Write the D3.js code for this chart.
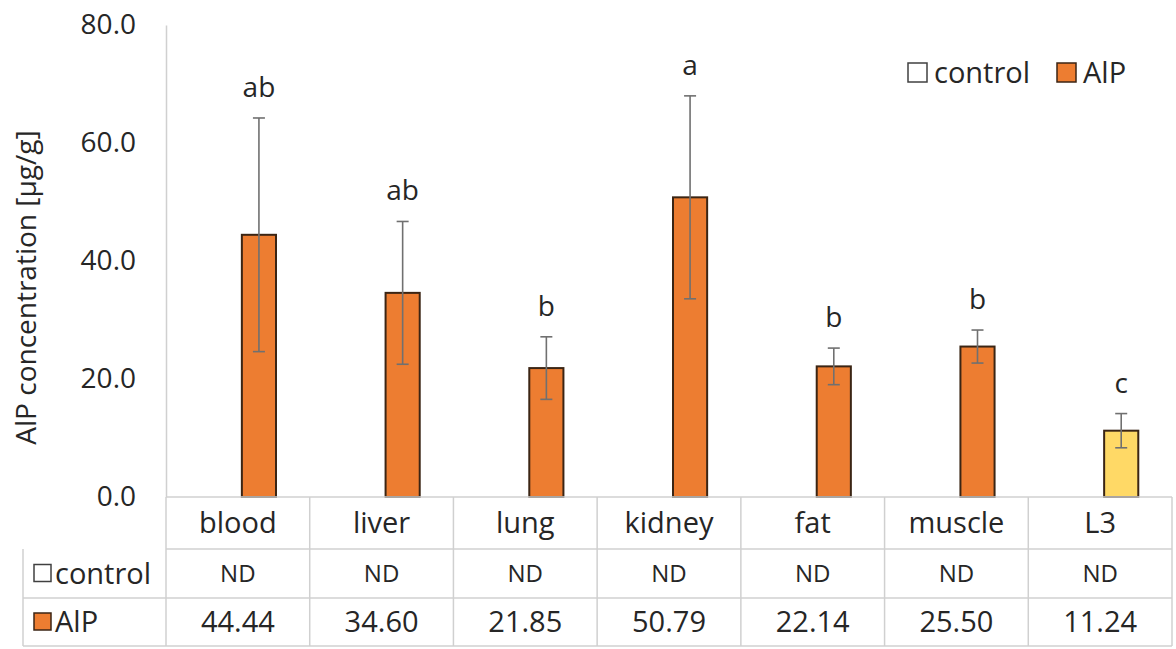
<!DOCTYPE html>
<html>
<head>
<meta charset="utf-8">
<script src="https://cdn.jsdelivr.net/npm/d3@7"></script>
<style>
  body { margin: 0; background: #fff; }
  text { font-family: "Open Sans", "Noto Sans", sans-serif; fill: #262626; }
</style>
</head>
<body>
<svg id="chart"></svg>
<script>

// chart values
const categories = ["blood", "liver", "lung", "kidney", "fat", "muscle", "L3"];
const series = ["control", "AlP"];
const controlValues = [null, null, null, null, null, null, null];
const controlLabels = ["ND", "ND", "ND", "ND", "ND", "ND", "ND"];
const alpValues = [44.44, 34.60, 21.85, 50.79, 22.14, 25.50, 11.24];
const alpErrors = [19.8, 12.1, 5.3, 17.2, 3.1, 2.8, 2.9];
const letters = ["ab", "ab", "b", "a", "b", "b", "c"];
const yTicks = [0, 20, 40, 60, 80];

const W = 1176, H = 649;
const margin = {left: 166, right: 4, top: 25, bottom: 152};
const plotW = W - margin.left - margin.right;
const plotH = H - margin.top - margin.bottom;

const orange = "#ed7d31";
const yellow = "#ffd966";
const gridGrey = "#d0d0d0";

const svg = d3.select("#chart").attr("width", W).attr("height", H);

const x = d3.scaleBand().domain(categories).range([margin.left, margin.left + plotW]);
const xs = d3.scaleBand().domain(series).range([0, x.bandwidth()])
               .paddingInner(0.19).paddingOuter(0.8);
const y = d3.scaleLinear().domain([0, 80]).range([margin.top + plotH, margin.top]);

//y axis: just the line and the labels, no tick marks
const yAxis = svg.append("g")
        .attr("transform", `translate(${margin.left}, 0)`)
        .call(d3.axisLeft(y).tickValues(yTicks).tickSize(0).tickPadding(30).tickFormat(d3.format(".1f")));
yAxis.select(".domain").attr("stroke", gridGrey).attr("stroke-width", 1.5);
yAxis.selectAll("text")
        .attr("font-size", "28px")
        .attr("font-family", "'Open Sans', sans-serif")
        .attr("fill", "#262626");

svg.append("text")
        .attr("transform", `translate(36, ${y(35.5)}) rotate(-90)`)
        .attr("text-anchor", "middle")
        .attr("font-size", "28px")
        .text("AlP concentration [µg/g]");

//bars
const barColor = (d, i) => categories[i] === "L3" ? yellow : orange;

svg.append("g")
        .selectAll("rect")
        .data(alpValues)
        .join("rect")
        .attr("x", (d, i) => x(categories[i]) + xs("AlP"))
        .attr("y", d => y(d))
        .attr("width", xs.bandwidth())
        .attr("height", d => y(0) - y(d))
        .attr("fill", barColor)
        .attr("stroke", "#3b2514")
        .attr("stroke-width", 2);

//control bars (not detected, nothing drawn when null)
svg.append("g")
        .selectAll("rect")
        .data(controlValues.filter(d => d !== null))
        .join("rect");

//error bars
const eb = svg.append("g")
        .selectAll("g")
        .data(alpValues)
        .join("g")
        .attr("transform", (d, i) => `translate(${x(categories[i]) + xs("AlP") + xs.bandwidth() / 2}, 0)`);

eb.append("line")
        .attr("y1", (d, i) => y(d + alpErrors[i]))
        .attr("y2", (d, i) => y(d - alpErrors[i]))
        .attr("stroke", "#707070")
        .attr("stroke-width", 1.6);

eb.selectAll(".cap")
        .data((d, i) => [d + alpErrors[i], d - alpErrors[i]])
        .join("line")
        .attr("class", "cap")
        .attr("x1", -6).attr("x2", 6)
        .attr("y1", d => y(d)).attr("y2", d => y(d))
        .attr("stroke", "#707070")
        .attr("stroke-width", 1.6);

eb.append("text")
        .attr("y", (d, i) => y(d + alpErrors[i]) - 21)
        .attr("text-anchor", "middle")
        .attr("font-size", "28px")
        .text((d, i) => letters[i]);

//legend
const legend = svg.append("g").attr("transform", "translate(908, 73)");
const legendItems = [{name: "control", fill: "#fff", dx: 0}, {name: "AlP", fill: orange, dx: 149}];
const li = legend.selectAll("g").data(legendItems).join("g")
        .attr("transform", d => `translate(${d.dx}, 0)`);
li.append("rect")
        .attr("x", 0).attr("y", -10).attr("width", 19).attr("height", 19)
        .attr("fill", d => d.fill)
        .attr("stroke", d => d.name === "AlP" ? "#3b2514" : "#404040")
        .attr("stroke-width", 1.5);
li.append("text")
        .attr("x", 26).attr("dy", "0.35em")
        .attr("font-size", "29px")
        .text(d => d.name);

//data table
const tbl = svg.append("g");
const rowY = [y(0), 549, 598, 646];
const tableLeft = 23;
const right = margin.left + plotW;

// horizontal lines
tbl.selectAll(".hl")
        .data(rowY)
        .join("line")
        .attr("x1", (d, i) => i < 2 ? margin.left : tableLeft)
        .attr("x2", right)
        .attr("y1", d => d).attr("y2", d => d)
        .attr("stroke", gridGrey).attr("stroke-width", 1.5);

// vertical lines
const vx = categories.map(c => x(c)).concat([right]);
tbl.selectAll(".vl")
        .data(vx)
        .join("line")
        .attr("x1", d => d).attr("x2", d => d)
        .attr("y1", rowY[0]).attr("y2", rowY[3])
        .attr("stroke", gridGrey).attr("stroke-width", 1.5);
tbl.append("line")
        .attr("x1", tableLeft).attr("x2", tableLeft)
        .attr("y1", rowY[1]).attr("y2", rowY[3])
        .attr("stroke", gridGrey).attr("stroke-width", 1.5);

// category header
tbl.selectAll(".cat")
        .data(categories)
        .join("text")
        .attr("x", d => x(d) + x.bandwidth() / 2)
        .attr("y", (rowY[0] + rowY[1]) / 2)
        .attr("dy", "0.35em")
        .attr("text-anchor", "middle")
        .attr("font-size", "29px")
        .text(d => d);

// control row
tbl.selectAll(".nd")
        .data(controlLabels)
        .join("text")
        .attr("x", (d, i) => x(categories[i]) + x.bandwidth() / 2)
        .attr("y", (rowY[1] + rowY[2]) / 2)
        .attr("dy", "0.35em")
        .attr("text-anchor", "middle")
        .attr("font-size", "24px")
        .text(d => d);

// AlP row
tbl.selectAll(".val")
        .data(alpValues)
        .join("text")
        .attr("x", (d, i) => x(categories[i]) + x.bandwidth() / 2)
        .attr("y", (rowY[2] + rowY[3]) / 2)
        .attr("dy", "0.35em")
        .attr("text-anchor", "middle")
        .attr("font-size", "29px")
        .text(d => d3.format(".2f")(d));

// row headers
const rh = tbl.selectAll(".rh")
        .data(legendItems)
        .join("g")
        .attr("transform", (d, i) => `translate(34, ${(rowY[i + 1] + rowY[i + 2]) / 2})`);
rh.append("rect")
        .attr("x", 0).attr("y", -9).attr("width", 17).attr("height", 17)
        .attr("fill", d => d.fill)
        .attr("stroke", d => d.name === "AlP" ? "#3b2514" : "#404040")
        .attr("stroke-width", 1.5);
rh.append("text")
        .attr("x", 21).attr("dy", "0.35em")
        .attr("font-size", "29px")
        .text(d => d.name);

</script>
</body>
</html>
